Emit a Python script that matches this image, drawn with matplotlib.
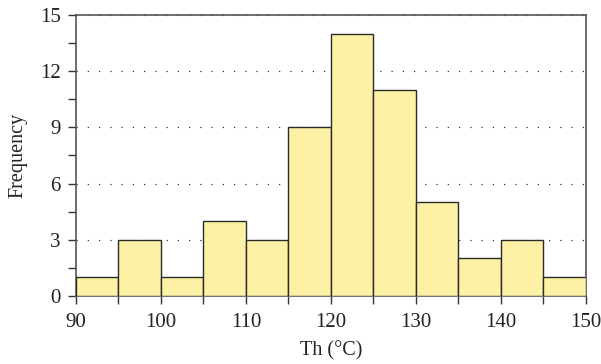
import numpy as np
import matplotlib
matplotlib.use("Agg")
import matplotlib.pyplot as plt
from matplotlib.ticker import MultipleLocator

# Dados do histograma (classes de 5 °C)
bin_edges = [90, 95, 100, 105, 110, 115, 120, 125, 130, 135, 140, 145, 150]
frequency = [1, 3, 1, 4, 3, 9, 14, 11, 5, 2, 3, 1]

plt.rcParams['font.family'] = ['Liberation Serif', 'DejaVu Serif']

fig = plt.figure(figsize=(6.01, 3.64), dpi=100)
ax = fig.add_axes([0.1265, 0.187, 0.848, 0.772])

left = np.array(bin_edges[:-1])
widths = np.diff(bin_edges)
ax.bar(left, frequency, width=widths, align='edge', color='#fdf1a6',
       edgecolor='#2b2b2b', linewidth=1.0, zorder=3)

ax.set_xlim(90, 150)
ax.set_ylim(0, 15)
ax.xaxis.set_major_locator(MultipleLocator(10))
ax.xaxis.set_minor_locator(MultipleLocator(5))
ax.yaxis.set_major_locator(MultipleLocator(3))
ax.yaxis.set_minor_locator(MultipleLocator(1.5))

ax.grid(axis='y', which='major', linestyle=(0, (1, 8)), color='#333333',
        linewidth=0.9, zorder=0)

for s in ax.spines.values():
    s.set_color('#555555')
    s.set_linewidth(1.2)

ax.tick_params(which='both', direction='out', color='#333333', width=1.0,
               labelsize=15, labelcolor='#222222')
ax.tick_params(which='major', length=6)
ax.tick_params(which='minor', length=6)
ax.tick_params(axis='x', pad=6)
ax.tick_params(axis='y', pad=5)

ax.set_xlabel('Th (°C)', fontsize=14.5, color='#222222', labelpad=7)
ax.set_ylabel('Frequency', fontsize=14.5, color='#222222', labelpad=9)

plt.savefig('out.png', dpi=100)
